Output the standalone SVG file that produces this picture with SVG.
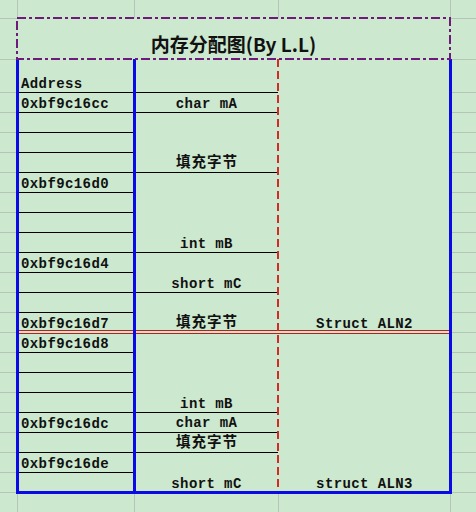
<svg xmlns="http://www.w3.org/2000/svg" width="476" height="512" viewBox="0 0 476 512">
<style>
.grid line{stroke:#b3c6b5;stroke-width:1}
.thin{stroke:#000;stroke-width:1}
.blue{stroke:#0a0ae6;stroke-width:3;fill:none}
.red{stroke:#d42a24;stroke-width:2;stroke-dasharray:8 4;fill:none}
.purple{stroke:#6e1a7a;stroke-width:2;stroke-dasharray:9 3 3 3;fill:none}
.dbl{stroke:#c81818;stroke-width:1}
.m{font-family:"Liberation Mono","DejaVu Sans Mono",monospace;font-weight:bold;font-size:14px;letter-spacing:0.4px;fill:#111}
.c{text-anchor:middle}
.cjk{font-family:"Noto Sans CJK SC","Noto Sans",sans-serif;font-weight:bold;font-size:14.5px;letter-spacing:1px;fill:#111;text-anchor:middle}
.title{font-family:"Noto Sans CJK SC","Noto Sans",sans-serif;font-weight:bold;font-size:19px;fill:#111;text-anchor:middle}
</style>
<rect width="476" height="512" fill="#cce8cf"/>
<g class="grid" id="grid">
<line x1="0" y1="18.5" x2="476" y2="18.5"/>
<line x1="0" y1="59.5" x2="476" y2="59.5"/>
<line x1="0" y1="92.5" x2="476" y2="92.5"/>
<line x1="0" y1="112.5" x2="476" y2="112.5"/>
<line x1="0" y1="132.5" x2="476" y2="132.5"/>
<line x1="0" y1="152.5" x2="476" y2="152.5"/>
<line x1="0" y1="172.5" x2="476" y2="172.5"/>
<line x1="0" y1="192.5" x2="476" y2="192.5"/>
<line x1="0" y1="212.5" x2="476" y2="212.5"/>
<line x1="0" y1="232.5" x2="476" y2="232.5"/>
<line x1="0" y1="252.5" x2="476" y2="252.5"/>
<line x1="0" y1="272.5" x2="476" y2="272.5"/>
<line x1="0" y1="292.5" x2="476" y2="292.5"/>
<line x1="0" y1="312.5" x2="476" y2="312.5"/>
<line x1="0" y1="332.5" x2="476" y2="332.5"/>
<line x1="0" y1="352.5" x2="476" y2="352.5"/>
<line x1="0" y1="372.5" x2="476" y2="372.5"/>
<line x1="0" y1="392.5" x2="476" y2="392.5"/>
<line x1="0" y1="412.5" x2="476" y2="412.5"/>
<line x1="0" y1="432.5" x2="476" y2="432.5"/>
<line x1="0" y1="452.5" x2="476" y2="452.5"/>
<line x1="0" y1="472.5" x2="476" y2="472.5"/>
<line x1="0" y1="492.5" x2="476" y2="492.5"/>
<line x1="17.5" y1="0" x2="17.5" y2="512"/>
<line x1="134.5" y1="0" x2="134.5" y2="512"/>
<line x1="278.5" y1="0" x2="278.5" y2="512"/>
<line x1="450.5" y1="0" x2="450.5" y2="512"/>
</g>
<rect x="17" y="18" width="434" height="474" fill="#cce8cf"/>
<g id="lines">
<g class="thin">
<line x1="17" y1="92.5" x2="278" y2="92.5"/>
<line x1="17" y1="112.5" x2="278" y2="112.5"/>
<line x1="17" y1="132.5" x2="134" y2="132.5"/>
<line x1="17" y1="152.5" x2="134" y2="152.5"/>
<line x1="17" y1="172.5" x2="278" y2="172.5"/>
<line x1="17" y1="192.5" x2="134" y2="192.5"/>
<line x1="17" y1="212.5" x2="134" y2="212.5"/>
<line x1="17" y1="232.5" x2="134" y2="232.5"/>
<line x1="17" y1="252.5" x2="278" y2="252.5"/>
<line x1="17" y1="272.5" x2="134" y2="272.5"/>
<line x1="17" y1="292.5" x2="278" y2="292.5"/>
<line x1="17" y1="312.5" x2="134" y2="312.5"/>
<line x1="17" y1="352.5" x2="134" y2="352.5"/>
<line x1="17" y1="372.5" x2="134" y2="372.5"/>
<line x1="17" y1="392.5" x2="134" y2="392.5"/>
<line x1="17" y1="412.5" x2="278" y2="412.5"/>
<line x1="17" y1="432.5" x2="278" y2="432.5"/>
<line x1="17" y1="452.5" x2="278" y2="452.5"/>
<line x1="17" y1="472.5" x2="134" y2="472.5"/>
</g>
<g class="dbl">
<line x1="17" y1="330.5" x2="450" y2="330.5"/>
<line x1="17" y1="333.5" x2="450" y2="333.5"/>
</g>
<line class="red" x1="278" y1="59" x2="278" y2="492"/>
<path class="blue" d="M17.5 59V492.5H450.5V59M134.5 59V492"/>
<rect class="purple" x="17" y="18" width="433" height="41"/>
</g>
<g id="title"><text class="title" x="233.5" y="52">内存分配图(By L.L)</text></g>
<g id="address">
<text class="m" x="21" y="87.5">Address</text>
<text class="m" x="21" y="107.8">0xbf9c16cc</text>
<text class="m" x="21" y="187.8">0xbf9c16d0</text>
<text class="m" x="21" y="267.8">0xbf9c16d4</text>
<text class="m" x="21" y="327.8">0xbf9c16d7</text>
<text class="m" x="21" y="347.8">0xbf9c16d8</text>
<text class="m" x="21" y="427.8">0xbf9c16dc</text>
<text class="m" x="21" y="467.8">0xbf9c16de</text>
</g>
<g id="members">
<text class="m c" x="206.5" y="107.8">char mA</text>
<text class="cjk" x="207" y="166.8">填充字节</text>
<text class="m c" x="206.5" y="247.8">int mB</text>
<text class="m c" x="206.5" y="287.8">short mC</text>
<text class="cjk" x="207" y="326.8">填充字节</text>
<text class="m c" x="206.5" y="407.8">int mB</text>
<text class="m c" x="206.5" y="427.3">char mA</text>
<text class="cjk" x="207" y="447.3">填充字节</text>
<text class="m c" x="206.5" y="487.8">short mC</text>
</g>
<g id="structs">
<text class="m c" x="364.5" y="327.8">Struct ALN2</text>
<text class="m c" x="364.5" y="487.8">struct ALN3</text>
</g>
</svg>
